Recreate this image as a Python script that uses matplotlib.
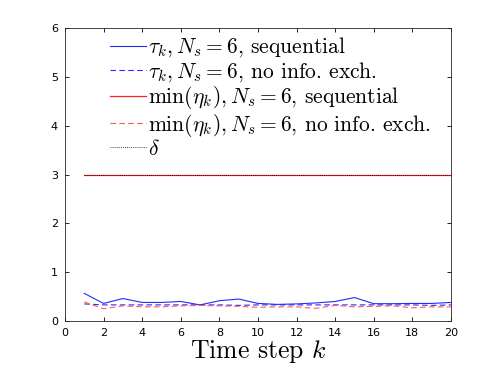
import numpy as np
import matplotlib.pyplot as plt

k = np.arange(1, 21)

# tau_k, sequential
tau_seq = [0.565, 0.36, 0.46, 0.38, 0.38, 0.40, 0.33, 0.415, 0.45, 0.36,
           0.34, 0.35, 0.37, 0.40, 0.48, 0.355, 0.355, 0.36, 0.36, 0.38]
# tau_k, no info. exchange
tau_noex = [0.35, 0.33, 0.33, 0.33, 0.33, 0.33, 0.33, 0.33, 0.32, 0.33,
            0.33, 0.33, 0.33, 0.33, 0.33, 0.33, 0.33, 0.33, 0.32, 0.33]
# min(eta_k), sequential
eta_seq = [3.0] * 20
# min(eta_k), no info. exchange
eta_noex = [0.39, 0.25, 0.31, 0.29, 0.29, 0.31, 0.32, 0.31, 0.30, 0.28,
            0.29, 0.29, 0.26, 0.32, 0.29, 0.30, 0.31, 0.27, 0.29, 0.29]
delta = 3.0

labels = [r'$\tau_k, N_s = 6$, sequential',
          r'$\tau_k, N_s = 6$, no info. exch.',
          r'$\min(\eta_k), N_s = 6$, sequential',
          r'$\min(\eta_k), N_s = 6$, no info. exch.',
          r'$\delta$']

plt.rcParams['mathtext.fontset'] = 'cm'
plt.rcParams['axes.unicode_minus'] = False

fig = plt.figure(figsize=(4.98, 3.74), dpi=100)
ax = fig.add_axes([0.1305, 0.1417, 0.775, 0.7833])

ax.plot(k, tau_seq, color='#2828ff', lw=0.8, label=labels[0])
ax.plot(k, tau_noex, color='#2828ff', lw=0.8, ls=(0, (5, 3)), label=labels[1])
ax.plot(k, eta_seq, color='#ff2020', lw=0.9, label=labels[2])
ax.plot(k, eta_noex, color='#ff5a5a', lw=0.8, ls=(0, (5, 3)), label=labels[3])
ax.plot(k, [delta] * len(k), color='black', lw=0.6, ls=(0, (1, 1.5)), label=labels[4])

ax.set_xlim(0, 20)
ax.set_ylim(0, 6)
ax.set_xticks(np.arange(0, 21, 2))
ax.set_yticks(np.arange(0, 7, 1))
ax.tick_params(direction='in', top=True, right=True, labelsize=8, length=3,
               width=0.6, pad=5)
for s in ax.spines.values():
    s.set_linewidth(0.6)
    s.set_color('#262626')
ax.set_xlabel(r'Time step $k$', fontsize=18.5, family='cmr10', labelpad=0)

ax.legend(loc='upper left', bbox_to_anchor=(0.067, 1.04), frameon=False,
          prop={'family': 'cmr10', 'size': 15.5}, handlelength=1.65,
          handletextpad=0.1, labelspacing=0.02)

fig.savefig('out.png', dpi=100)
